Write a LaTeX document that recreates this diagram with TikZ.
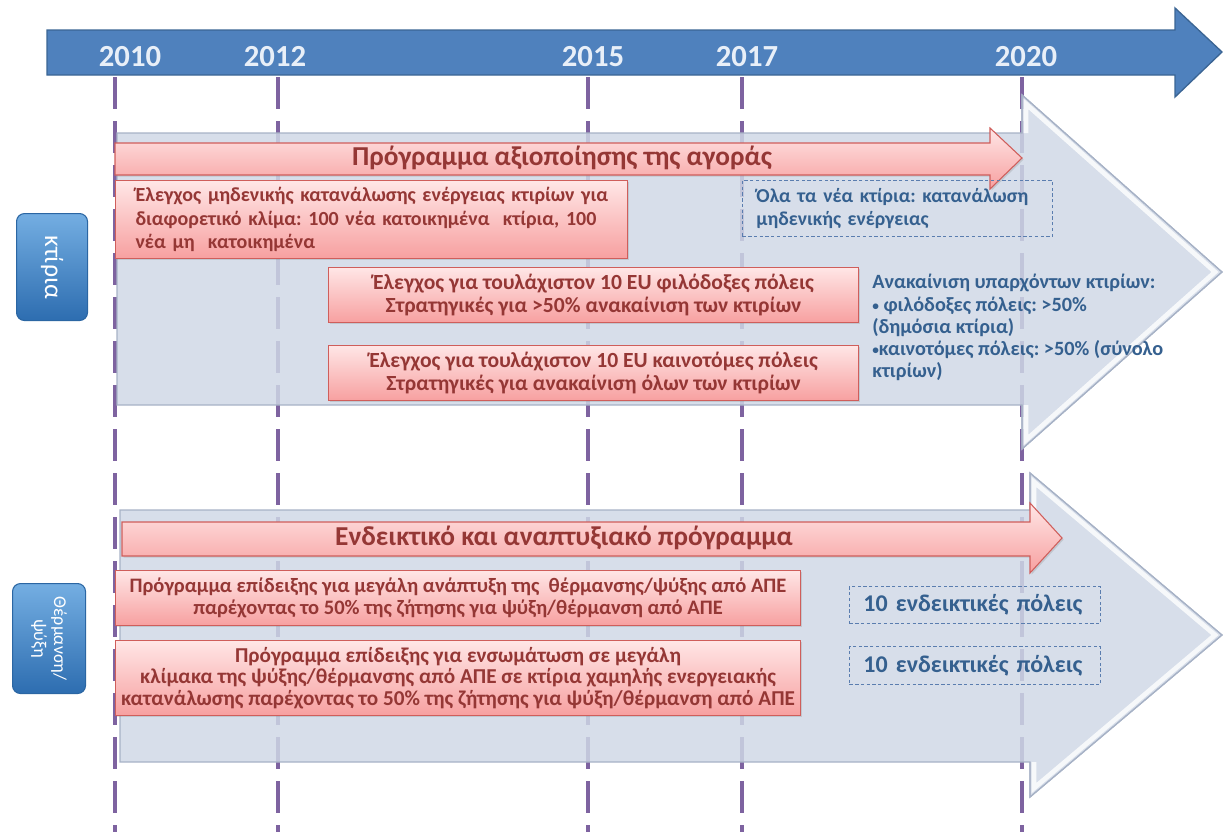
\documentclass[tikz,border=0pt]{standalone}
\usepackage{fontspec}
\setmainfont{Carlito}
\usetikzlibrary{shadows}
\definecolor{tlblue}{HTML}{4F81BD}
\definecolor{tlborder}{HTML}{3B6594}
\definecolor{yeartxt}{HTML}{E8EFF8}
\definecolor{tickpurple}{HTML}{7E63A0}
\definecolor{bigfill}{HTML}{CFD8E6}
\definecolor{bigedge}{HTML}{A7B2C6}
\definecolor{pinktop}{HTML}{FFE6E6}
\definecolor{pinkbot}{HTML}{F7A0A0}
\definecolor{pinkedge}{HTML}{CF5E5B}
\definecolor{redtxt}{HTML}{953735}
\definecolor{bluetxt}{HTML}{35608F}
\definecolor{dashblue}{HTML}{5A7DAF}
\definecolor{labtop}{HTML}{74AEE2}
\definecolor{labbot}{HTML}{2D6DB0}
\definecolor{labedge}{HTML}{2B66A3}
\newcommand{\smbul}{{\fontsize{10}{10}\selectfont\raisebox{0.15ex}{•}}}
\tikzset{
  yearlbl/.style={text=yeartxt, font=\fontsize{23}{26}\selectfont\bfseries, inner sep=0pt},
  tick/.style={tickpurple, line width=2.4pt, dash pattern=on 24pt off 9pt},
  bigarrow/.style={fill=bigfill, fill opacity=0.84, draw=bigedge, line width=0.9pt, line join=miter},
  bigbevel/.style={draw=white, draw opacity=0.8, line width=3.5pt, line join=miter},
  pinkarrow/.style={top color=pinktop, bottom color=pinkbot, draw=pinkedge, line width=0.8pt,
     drop shadow={opacity=0.25, shadow xshift=1.2pt, shadow yshift=-1.2pt}},
  pinkbox/.style={top color=pinktop, bottom color=pinkbot, draw=pinkedge, line width=0.8pt,
     text=redtxt, inner sep=0pt,
     drop shadow={opacity=0.25, shadow xshift=1.2pt, shadow yshift=-1.2pt}},
  dimwh/.style 2 args={minimum width=#1*0.75pt, minimum height=#2*0.75pt},
  dashbox/.style={draw=dashblue, dash pattern=on 2.5pt off 1.8pt, line width=0.7pt,
     text=bluetxt, inner ysep=0pt, inner xsep=9.5pt},
  arrowtxt/.style={text=redtxt, font=\fontsize{20.5}{23}\selectfont\bfseries},
  labbox/.style={top color=labtop, bottom color=labbot, draw=labedge, line width=0.8pt,
     rounded corners=6pt, inner sep=0pt},
}
\begin{document}
\frenchspacing
\begin{tikzpicture}[x=0.75pt,y=-0.75pt]
\useasboundingbox (0,0) rectangle (1230,832);
% vertical ticks
\foreach \n/\x in {a/115,b/278,c/588,d/742,e/1022}{
  \coordinate (t\n1) at (\x,77);
  \coordinate (t\n2) at (\x,832);
  \draw[tick] (t\n1) -- (t\n2);
}
% timeline arrow
\draw[fill=tlblue, draw=tlborder, line width=1pt, line join=miter]
  (47,30) -- (1175,30) -- (1175,8) -- (1222,52) -- (1175,97) -- (1175,75) -- (47,75) -- cycle;
\node[yearlbl] (y2010) at (130,57) {2010};
\node[yearlbl] (y2012) at (275,57) {2012};
\node[yearlbl] (y2015) at (593,57) {2015};
\node[yearlbl] (y2017) at (747,57) {2017};
\node[yearlbl] (y2020) at (1026,57) {2020};
% big arrow top
\path[bigarrow] (117,133) -- (1022,133) -- (1022,95) -- (1222,272) -- (1022,449) -- (1022,405) -- (117,405) -- cycle;
\draw[bigbevel] (1026,133) -- (1026,104) -- (1215,272) -- (1026,440) -- (1026,405);
\draw[bigedge, line width=0.9pt, line join=miter] (1022,133) -- (1022,95) -- (1222,272) -- (1022,449) -- (1022,405);
% big arrow bottom
\path[bigarrow] (120,510) -- (1030,510) -- (1030,473) -- (1222,635) -- (1030,797) -- (1030,762) -- (120,762) -- cycle;
\draw[bigbevel] (1034,510) -- (1034,482) -- (1215,635) -- (1034,788) -- (1034,762);
\draw[bigedge, line width=0.9pt, line join=miter] (1030,510) -- (1030,473) -- (1222,635) -- (1030,797) -- (1030,762);
% pink arrows
\path[pinkarrow] (115,143) -- (990,143) -- (990,128) -- (1022,158) -- (990,189) -- (990,175) -- (115,175) -- cycle;
\node[arrowtxt] (p1) at (562,158) {Πρόγραμμα αξιοποίησης της αγοράς};
\path[pinkarrow] (122,522) -- (1030,522) -- (1030,503) -- (1062,538) -- (1030,573) -- (1030,556) -- (122,556) -- cycle;
\node[arrowtxt] (p2) at (564,538) {Ενδεικτικό και αναπτυξιακό πρόγραμμα};
% boxes top
\node[pinkbox, dimwh={512}{78}, anchor=north west, align=left, text width=492*0.75pt,
  font=\fontsize{15}{17.6}\selectfont\bfseries] (b1) at (115,180)
  {\hspace*{7.5pt}Έλεγχος μηδενικής κατανάλωσης ενέργειας κτιρίων για\\\hspace*{7.5pt}διαφορετικό κλίμα: 100 νέα κατοικημένα\ \ κτίρια, 100\\\hspace*{7.5pt}νέα μη\ \ κατοικημένα};
\node[pinkbox, dimwh={530}{55}, anchor=north west, align=center,
  font=\fontsize{16.2}{17.2}\selectfont\bfseries] (b2) at (328,267)
  {Έλεγχος για τουλάχιστον 10 EU φιλόδοξες πόλεις\\Στρατηγικές για >50\% ανακαίνιση των κτιρίων};
\node[pinkbox, dimwh={530}{55}, anchor=north west, align=center,
  font=\fontsize{16.2}{17.2}\selectfont\bfseries] (b3) at (328,345)
  {Έλεγχος για τουλάχιστον 10 EU καινοτόμες πόλεις\\Στρατηγικές για ανακαίνιση όλων των κτιρίων};
\node[dashbox, dimwh={310}{56}, anchor=north west, align=left, text width=282*0.75pt,
  font=\fontsize{14.8}{17.5}\selectfont\bfseries] (d1) at (742,180)
  {Όλα τα νέα κτίρια: κατανάλωση\\μηδενικής ενέργειας};
\node[text=bluetxt, anchor=north west, align=left, inner sep=0pt,
  font=\fontsize{15.2}{16.7}\selectfont\bfseries] (r1) at (872,274)
  {Ανακαίνιση υπαρχόντων κτιρίων:\\\smbul\ φιλόδοξες πόλεις: >50\%\\(δημόσια κτίρια)\\\smbul καινοτόμες πόλεις: >50\% (σύνολο\\κτιρίων)};
% boxes bottom
\node[pinkbox, dimwh={685}{55}, anchor=north west, align=center,
  font=\fontsize{15.4}{16.6}\selectfont\bfseries] (b4) at (115,570)
  {Πρόγραμμα επίδειξης για μεγάλη ανάπτυξη της\ \ θέρμανσης/ψύξης από ΑΠΕ\\παρέχοντας το 50\% της ζήτησης για ψύξη/θέρμανση από ΑΠΕ};
\node[pinkbox, dimwh={685}{75}, anchor=north west, align=center,
  font=\fontsize{15.9}{16.2}\selectfont\bfseries] (b5) at (115,640)
  {Πρόγραμμα επίδειξης για ενσωμάτωση σε μεγάλη\\κλίμακα της ψύξης/θέρμανσης από ΑΠΕ σε κτίρια χαμηλής ενεργειακής\\κατανάλωσης παρέχοντας το 50\% της ζήτησης για ψύξη/θέρμανση από ΑΠΕ};
\node[dashbox, dimwh={251}{37}, anchor=north west, align=left, text width=223*0.75pt,
  font=\fontsize{18}{20}\selectfont\bfseries] (d2) at (849,586)
  {10 ενδεικτικές πόλεις};
\node[dashbox, dimwh={251}{38}, anchor=north west, align=left, text width=223*0.75pt,
  font=\fontsize{18}{20}\selectfont\bfseries] (d3) at (849,646)
  {10 ενδεικτικές πόλεις};
% left labels
\node[labbox, dimwh={71}{107}, anchor=north west] (l1) at (16,213) {};
\node[text=white, rotate=-90, font=\fontsize{19.3}{22}\selectfont] (l1t) at (l1.center) {κτίρια};
\node[labbox, dimwh={73}{110}, anchor=north west] (l2) at (12,583) {};
\node[text=white, rotate=-90, align=center, font=\fontsize{13.5}{15}\selectfont] (l2t) at (l2.center) {Θέρμανση/\\ψύξη};
\end{tikzpicture}
\end{document}
